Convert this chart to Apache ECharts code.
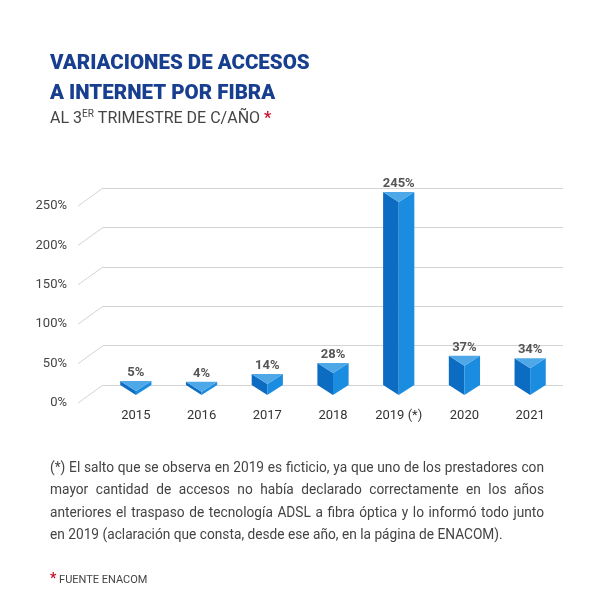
<!DOCTYPE html>
<html>
<head>
<meta charset="utf-8">
<script src="https://cdn.jsdelivr.net/npm/echarts@6/dist/echarts.min.js"></script>
<style>
  html, body { margin: 0; padding: 0; background: #fff; }
  #wrap { position: relative; width: 610px; height: 610px; }
  #chart { position: absolute; left: 0; top: 0; width: 610px; height: 610px; }
  #nota {
    position: absolute; left: 50px; top: 456px; width: 574px;
    transform-origin: 0 0; transform: scaleX(0.86);
    font-family: Roboto, sans-serif; font-size: 15.5px; line-height: 22.4px;
    color: #444; white-space: nowrap;
  }
  #nota .j { text-align: justify; text-align-last: justify; }
  #fuente {
    position: absolute; left: 50px; top: 570px;
    font-family: Roboto, sans-serif; font-size: 11px; color: #444;
  }
  #fuente b { color: #c8102e; font-size: 14px; }
</style>
</head>
<body>
<div id="wrap">
  <div id="chart"></div>
  <div id="nota">
    <div class="j">(*) El salto que se observa en 2019 es ficticio, ya que uno de los prestadores con</div>
    <div class="j">mayor cantidad de accesos no había declarado correctamente en los años</div>
    <div class="j">anteriores el traspaso de tecnología ADSL a fibra óptica y lo informó todo junto</div>
    <div id="last"><span>en 2019 (aclaración que consta, desde ese año, en la página de ENACOM).</span></div>
  </div>
  <div id="fuente"><b>*</b> FUENTE ENACOM</div>
</div>
<script>
// datos del gráfico
const years = ['2015', '2016', '2017', '2018', '2019 (*)', '2020', '2021']
const variation = [5, 4, 14, 28, 245, 37, 34]
const yTicks = [0, 50, 100, 150, 200, 250]

// colores de las caras del prisma
const topColor = '#4ea8e8'
const leftColor = '#0b6cc2'
const rightColor = '#1b8de0'
const depth = 10

// ajuste del ancho de la nota para que la última línea termine como en el original
const nota = document.getElementById('nota')
const lastSpan = document.querySelector('#last span')
const k = 453 / lastSpan.offsetWidth
nota.style.transform = 'scaleX(' + k + ')'
nota.style.width = (494 / k) + 'px'

const chart = echarts.init(document.getElementById('chart'))

const options = {
  animation: false,
  title: {
    text: 'VARIACIONES DE ACCESOS\nA INTERNET POR FIBRA',
    left: 50,
    top: 49,
    padding: 0,
    itemGap: 0,
    textStyle: {
      fontFamily: 'Roboto',
      fontSize: 20.5,
      fontWeight: 900,
      color: '#183f8f',
      lineHeight: 30
    },
    subtext: '{n|AL 3}{s|ER}{n| TRIMESTRE DE C/AÑO }{r|*}',
    subtextStyle: {
      rich: {
        n: { fontFamily: 'Roboto', fontSize: 16, color: '#444', lineHeight: 20 },
        s: { fontFamily: 'Roboto', fontSize: 10, color: '#444', padding: [0, 0, 9, 0] },
        r: { fontFamily: 'Roboto', fontSize: 16, fontWeight: 'bold', color: '#c8102e' }
      }
    }
  },
  grid: {
    left: 103,
    right: 47,
    top: 188,
    bottom: 225
  },
  xAxis: {
    type: 'category',
    data: years,
    axisLine: { show: false },
    axisTick: { show: false },
    axisLabel: {
      margin: 24,
      fontFamily: 'Roboto',
      fontSize: 13,
      color: '#333'
    }
  },
  yAxis: {
    type: 'value',
    min: 0,
    max: 250,
    interval: 50,
    axisLine: { show: false },
    axisTick: { show: false },
    splitLine: { lineStyle: { color: '#d3d3d3', width: 1 } },
    axisLabel: {
      margin: 36,
      formatter: v => '{a|' + v + '%}',
      rich: {
        a: { fontFamily: 'Roboto', fontSize: 13, color: '#444', padding: [36, 0, 0, 0] }
      }
    }
  },
  series: [
    {
      // conectores inclinados de las etiquetas del eje
      type: 'custom',
      clip: false,
      silent: true,
      data: yTicks.map(v => [0, v]),
      renderItem(params, api) {
        const p = api.coord([0, api.value(1)])
        const x0 = params.coordSys.x
        return {
          type: 'line',
          shape: { x1: x0 - 25, y1: p[1] + 18, x2: x0, y2: p[1] },
          style: { stroke: '#d3d3d3', lineWidth: 1 }
        }
      }
    },
    {
      // barras en forma de prisma triangular
      type: 'custom',
      clip: false,
      data: variation.map((v, i) => [i, v]),
      renderItem(params, api) {
        const top = api.coord([api.value(0), api.value(1)])
        const base = api.coord([api.value(0), 0])
        const w = api.size([1, 0])[0] * 0.475
        const c = top[0]
        const l = c - w / 2
        const r = c + w / 2
        const yt = top[1]
        const yb = base[1]
        return {
          type: 'group',
          children: [
            {
              type: 'polygon',
              shape: { points: [[l, yt], [c, yt + depth], [c, yb + depth], [l, yb]] },
              style: { fill: leftColor }
            },
            {
              type: 'polygon',
              shape: { points: [[c, yt + depth], [r, yt], [r, yb], [c, yb + depth]] },
              style: { fill: rightColor }
            },
            {
              type: 'polygon',
              shape: { points: [[l, yt], [r, yt], [c, yt + depth]] },
              style: { fill: topColor }
            },
            {
              type: 'text',
              x: c,
              y: yt - 2,
              style: {
                text: api.value(1) + '%',
                fontFamily: 'Roboto',
                fontSize: 13,
                fontWeight: 'bold',
                fill: '#555',
                align: 'center',
                verticalAlign: 'bottom'
              }
            }
          ]
        }
      }
    }
  ]
}

chart.setOption(options)
</script>
</body>
</html>
